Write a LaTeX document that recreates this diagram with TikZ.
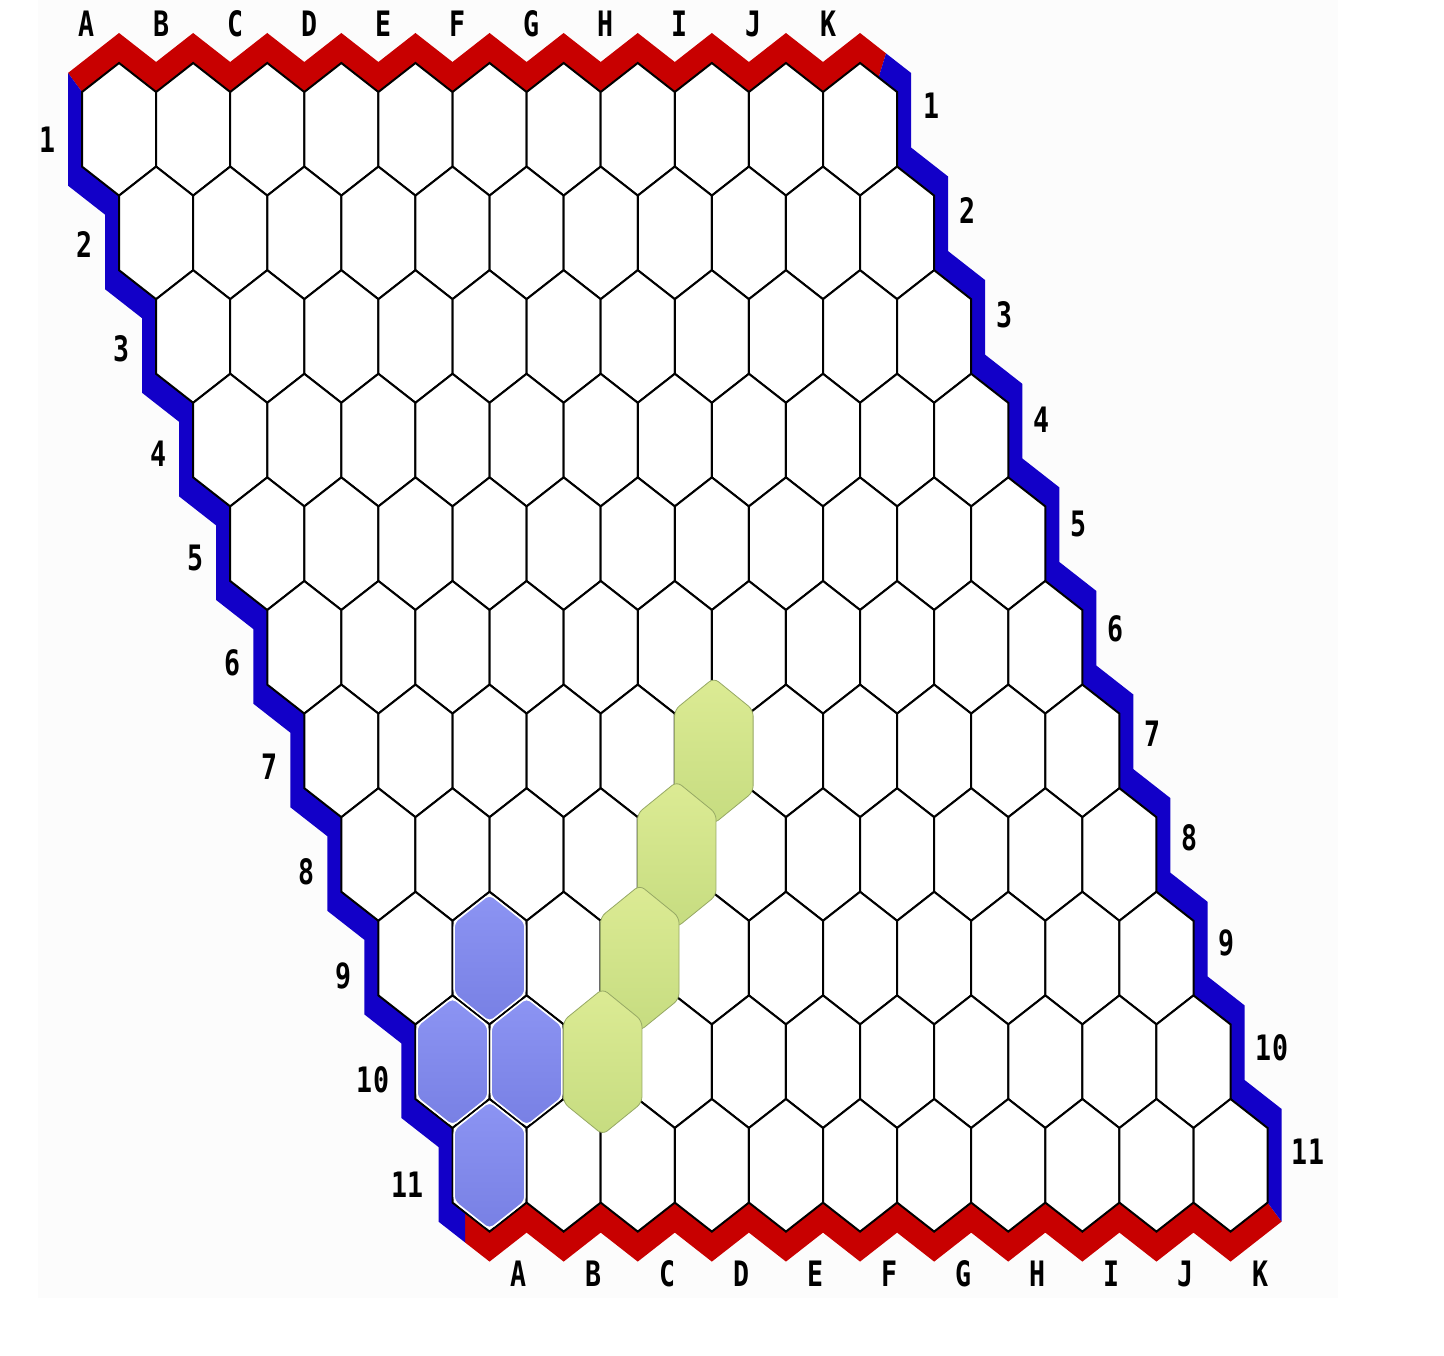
\documentclass[tikz,border=0pt]{standalone}
\usepackage{fontspec}
\newfontfamily\labelfont[FakeStretch=0.76]{DejaVu Sans Mono}
\definecolor{bandred}{RGB}{200,0,0}
\definecolor{bandblue}{RGB}{18,0,200}
\definecolor{bluetop}{RGB}{140,148,243}
\definecolor{bluebot}{RGB}{120,128,228}
\definecolor{greentop}{RGB}{220,235,148}
\definecolor{greenbot}{RGB}{198,220,128}
\definecolor{greenedge}{RGB}{150,168,100}
\newcommand\hexoutline{(0,-66.3) -- (37.05,-37.3) -- (37.05,37.3) -- (0,66.3) -- (-37.05,37.3) -- (-37.05,-37.3) -- cycle}
\begin{document}
\begin{tikzpicture}[x=1pt,y=-1pt,
  cell/.style={fill=white,draw=black,line width=2pt,line join=miter},
  bluestone/.style={xscale=0.955,yscale=0.965,rounded corners=5pt,top color=bluetop,bottom color=bluebot,draw=white,line width=1.5pt},
  greenstone/.style={xscale=1.06,yscale=1.1,rounded corners=6pt,top color=greentop,bottom color=greenbot,draw=greenedge,line width=0.8pt},
  lab/.style={font=\labelfont\bfseries\fontsize{35}{35}\selectfont,inner sep=0pt,anchor=center,text=black}]
\useasboundingbox (0,0) rectangle (1444,1356);
\fill[black!1] (38,0) rectangle (1338,1298);
% red top band
\fill[bandred] (82,92) \foreach \i in {0,...,9} { -- ({119.05+74.1*\i},63) -- ({156.1+74.1*\i},92) } -- (860.05,63) -- (878.6,77.5) -- (886,53.4) -- (860.05,33) \foreach \i in {9,8,...,0} { -- ({156.1+74.1*\i},62) -- ({119.05+74.1*\i},33) } -- (68,73) -- cycle;
% red bottom band
\fill[bandred] (465,1212.4) -- (489.55,1231.6) \foreach \i in {1,...,10} { -- ({452.5+74.1*\i},1202.6) -- ({489.55+74.1*\i},1231.6) } -- (1267.6,1202.6) -- (1281.6,1221.6) \foreach \i in {10,9,...,1} { -- ({489.55+74.1*\i},1261.6) -- ({452.5+74.1*\i},1232.6) } -- (489.55,1261.6) -- (465,1242.4) -- cycle;
% blue left band
\fill[bandblue] (82,92) \foreach \j in {0,...,9} { -- ({82+37.05*\j},{166.6+103.6*\j}) -- ({119.05+37.05*\j},{195.6+103.6*\j}) } -- (452.5,1202.6) -- (465,1212.4) -- (465,1242.4) -- (438.5,1221.64) \foreach \j in {9,8,...,0} { -- ({105.05+37.05*\j},{214.64+103.6*\j}) -- ({68+37.05*\j},{185.64+103.6*\j}) } -- (68,73) -- cycle;
% blue right band
\fill[bandblue] (878.6,77.5) -- (897.1,92) \foreach \j in {0,...,9} { -- ({897.1+37.05*\j},{166.6+103.6*\j}) -- ({934.15+37.05*\j},{195.6+103.6*\j}) } -- (1267.6,1202.6) -- (1281.6,1221.6) \foreach \j in {9,8,...,0} { -- ({948.15+37.05*\j},{176.56+103.6*\j}) -- ({911.1+37.05*\j},{147.56+103.6*\j}) } -- (911.1,73) -- (886,53.4) -- cycle;
% board cells
\foreach \j in {0,...,10} {
  \foreach \i in {0,...,10} {
    \path[shift={({119.05+74.1*\i+37.05*\j},{129.3+103.6*\j})},cell] \hexoutline;
  }
}
% blue stones
\foreach \i/\j in {1/8,0/9,1/9,0/10} {
  \path[shift={({119.05+74.1*\i+37.05*\j},{129.3+103.6*\j})},bluestone] \hexoutline;
}
% green stones
\foreach \i/\j in {5/6,4/7,3/8,2/9} {
  \path[shift={({121.05+74.1*\i+37.05*\j},{129.3+103.6*\j})},greenstone] \hexoutline;
}
% column letters
\foreach \l [count=\k from 0] in {A,B,C,D,E,F,G,H,I,J,K} {
  \node[lab] (top\l) at ({87+74.1*\k},24) {\l};
  \node[lab] (bot\l) at ({519+74.1*\k},1274) {\l};
}
% row numbers
\foreach \n in {1,...,9} {
  \node[lab] (left\n) at ({48+36.9*(\n-1)},{140+104.5*(\n-1)}) {\n};
  \node[lab] (right\n) at ({931+36.9*(\n-1)},{106+104.6*(\n-1)}) {\n};
}
\node[lab] (left10) at (373,1080) {10};
\node[lab] (left11) at (407.5,1185) {11};
\node[lab] (right10) at (1272,1048) {10};
\node[lab] (right11) at (1308,1152) {11};
\end{tikzpicture}
\end{document}
